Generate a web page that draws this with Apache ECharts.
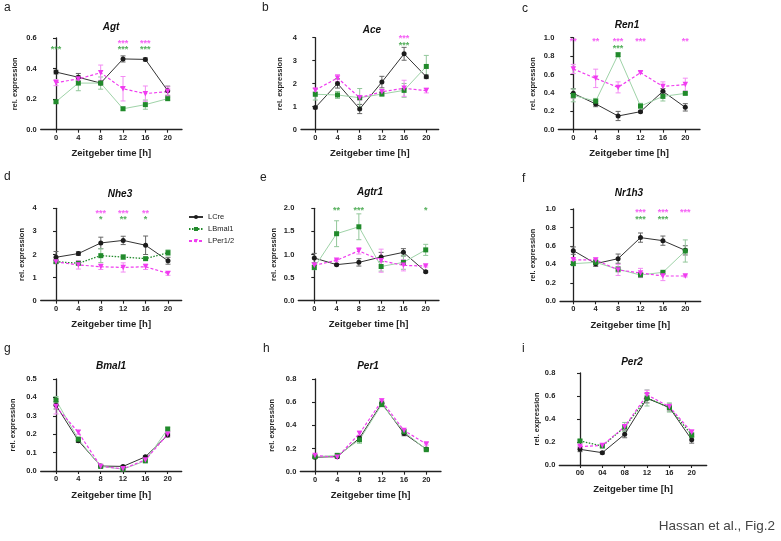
<!DOCTYPE html>
<html><head><meta charset="utf-8">
<script src="https://cdn.jsdelivr.net/npm/echarts@6/dist/echarts.min.js"></script>
<style>html,body{margin:0;padding:0;background:#fff}#c{width:781px;height:541px}</style>
</head><body><div id="c"></div>
<script>
// ---------- data ----------
const times = [0, 4, 8, 12, 16, 20];
const timeLabels = ['0', '4', '8', '12', '16', '20'];
const timeLabelsPer2 = ['00', '04', '08', '12', '16', '20'];
const groups = ['LCre', 'LBmal1', 'LPer1/2'];
const genes = ['Agt', 'Ace', 'Ren1', 'Nhe3', 'Agtr1', 'Nr1h3', 'Bmal1', 'Per1', 'Per2'];
const panelLetters = ['a', 'b', 'c', 'd', 'e', 'f', 'g', 'h', 'i'];
const yMax = [0.6, 4, 1.0, 4, 2.0, 1.0, 0.5, 0.8, 0.8];
const yStep = [0.2, 1, 0.2, 1, 0.5, 0.2, 0.1, 0.2, 0.2];

const agtLCre = [0.377, 0.343, 0.305, 0.463, 0.460, 0.255];
const agtLCreErr = [0.012, 0.025, 0.010, 0.020, 0.010, 0.030];
const agtLBmal1 = [0.183, 0.305, 0.305, 0.137, 0.164, 0.203];
const agtLBmal1Err = [0.008, 0.050, 0.040, 0.010, 0.030, 0.010];
const agtLPer = [0.308, 0.332, 0.373, 0.268, 0.236, 0.250];
const agtLPerErr = [0.020, 0.010, 0.050, 0.080, 0.050, 0.030];

const aceLCre = [0.96, 2.01, 0.90, 2.07, 3.30, 2.30];
const aceLCreErr = [0.05, 0.20, 0.20, 0.25, 0.28, 0.08];
const aceLBmal1 = [1.54, 1.51, 1.39, 1.55, 1.71, 2.75];
const aceLBmal1Err = [0.25, 0.15, 0.40, 0.08, 0.30, 0.48];
const aceLPer = [1.72, 2.25, 1.39, 1.65, 1.80, 1.70];
const aceLPerErr = [0.08, 0.15, 0.10, 0.10, 0.35, 0.10];

const ren1LCre = [0.395, 0.280, 0.149, 0.196, 0.417, 0.243];
const ren1LCreErr = [0.050, 0.030, 0.050, 0.010, 0.030, 0.040];
const ren1LBmal1 = [0.373, 0.310, 0.815, 0.257, 0.362, 0.395];
const ren1LBmal1Err = [0.070, 0.030, 0.020, 0.030, 0.050, 0.010];
const ren1LPer = [0.660, 0.558, 0.460, 0.620, 0.470, 0.490];
const ren1LPerErr = [0.050, 0.100, 0.060, 0.010, 0.050, 0.070];

const nhe3LCre = [1.88, 2.04, 2.50, 2.61, 2.40, 1.73];
const nhe3LCreErr = [0.25, 0.08, 0.25, 0.18, 0.40, 0.15];
const nhe3LBmal1 = [1.69, 1.62, 1.95, 1.89, 1.82, 2.08];
const nhe3LBmal1Err = [0.05, 0.05, 0.30, 0.10, 0.05, 0.12];
const nhe3LPer = [1.68, 1.55, 1.47, 1.44, 1.47, 1.18];
const nhe3LPerErr = [0.05, 0.18, 0.12, 0.20, 0.12, 0.08];

const agtr1LCre = [0.924, 0.780, 0.830, 0.946, 1.047, 0.628];
const agtr1LCreErr = [0.100, 0.020, 0.080, 0.100, 0.080, 0.020];
const agtr1LBmal1 = [0.720, 1.450, 1.600, 0.740, 0.830, 1.100];
const agtr1LBmal1Err = [0.050, 0.280, 0.280, 0.100, 0.150, 0.120];
const agtr1LPer = [0.765, 0.874, 1.080, 0.866, 0.765, 0.750];
const agtr1LPerErr = [0.050, 0.020, 0.070, 0.250, 0.120, 0.020];

const nr1h3LCre = [0.549, 0.408, 0.462, 0.690, 0.657, 0.552];
const nr1h3LCreErr = [0.040, 0.030, 0.050, 0.050, 0.050, 0.050];
const nr1h3LBmal1 = [0.408, 0.422, 0.347, 0.285, 0.314, 0.545];
const nr1h3LBmal1Err = [0.020, 0.030, 0.030, 0.020, 0.010, 0.120];
const nr1h3LPer = [0.450, 0.448, 0.340, 0.307, 0.274, 0.274];
const nr1h3LPerErr = [0.010, 0.020, 0.060, 0.050, 0.050, 0.010];

const bmal1LCre = [0.357, 0.165, 0.027, 0.025, 0.077, 0.195];
const bmal1LCreErr = [0.020, 0.010, 0.005, 0.005, 0.005, 0.010];
const bmal1LBmal1 = [0.385, 0.173, 0.025, 0.010, 0.055, 0.228];
const bmal1LBmal1Err = [0.020, 0.010, 0.005, 0.003, 0.005, 0.010];
const bmal1LPer = [0.350, 0.210, 0.025, 0.012, 0.060, 0.200];
const bmal1LPerErr = [0.040, 0.010, 0.005, 0.003, 0.005, 0.010];

const per1LCre = [0.125, 0.130, 0.290, 0.590, 0.330, 0.195];
const per1LCreErr = [0.010, 0.010, 0.020, 0.020, 0.020, 0.010];
const per1LBmal1 = [0.130, 0.140, 0.275, 0.580, 0.345, 0.190];
const per1LBmal1Err = [0.010, 0.020, 0.030, 0.020, 0.020, 0.010];
const per1LPer = [0.140, 0.125, 0.330, 0.610, 0.355, 0.240];
const per1LPerErr = [0.010, 0.010, 0.020, 0.020, 0.010, 0.010];

const per2LCre = [0.136, 0.107, 0.267, 0.580, 0.500, 0.220];
const per2LCreErr = [0.020, 0.010, 0.030, 0.040, 0.030, 0.030];
const per2LBmal1 = [0.209, 0.165, 0.330, 0.583, 0.500, 0.260];
const per2LBmal1Err = [0.010, 0.010, 0.040, 0.070, 0.040, 0.020];
const per2LPer = [0.160, 0.170, 0.333, 0.610, 0.507, 0.285];
const per2LPerErr = [0.010, 0.010, 0.020, 0.040, 0.020, 0.020];

// significance marks: [time, y, text, group index]
const agtStars = [[0, 0.537, '***', 1], [12, 0.58, '***', 2], [16, 0.58, '***', 2], [12, 0.537, '***', 1], [16, 0.537, '***', 1]];
const aceStars = [[16, 4.04, '***', 2], [16, 3.75, '***', 1]];
const ren1Stars = [[0, 0.975, '**', 2], [4, 0.975, '**', 2], [8, 0.975, '***', 2], [12, 0.975, '***', 2], [20, 0.975, '**', 2], [8, 0.90, '***', 1]];
const nhe3Stars = [[8, 3.88, '***', 2], [12, 3.88, '***', 2], [16, 3.88, '**', 2], [8, 3.58, '*', 1], [12, 3.58, '**', 1], [16, 3.58, '*', 1]];
const agtr1Stars = [[4, 1.99, '**', 1], [8, 1.99, '***', 1], [20, 1.99, '*', 1]];
const nr1h3Stars = [[12, 0.98, '***', 2], [16, 0.98, '***', 2], [20, 0.98, '***', 2], [12, 0.91, '***', 1], [16, 0.91, '***', 1]];

// ---------- tables built from the arrays ----------
const means = [
  [agtLCre, agtLBmal1, agtLPer], [aceLCre, aceLBmal1, aceLPer], [ren1LCre, ren1LBmal1, ren1LPer],
  [nhe3LCre, nhe3LBmal1, nhe3LPer], [agtr1LCre, agtr1LBmal1, agtr1LPer], [nr1h3LCre, nr1h3LBmal1, nr1h3LPer],
  [bmal1LCre, bmal1LBmal1, bmal1LPer], [per1LCre, per1LBmal1, per1LPer], [per2LCre, per2LBmal1, per2LPer]
];
const errs = [
  [agtLCreErr, agtLBmal1Err, agtLPerErr], [aceLCreErr, aceLBmal1Err, aceLPerErr], [ren1LCreErr, ren1LBmal1Err, ren1LPerErr],
  [nhe3LCreErr, nhe3LBmal1Err, nhe3LPerErr], [agtr1LCreErr, agtr1LBmal1Err, agtr1LPerErr], [nr1h3LCreErr, nr1h3LBmal1Err, nr1h3LPerErr],
  [bmal1LCreErr, bmal1LBmal1Err, bmal1LPerErr], [per1LCreErr, per1LBmal1Err, per1LPerErr], [per2LCreErr, per2LBmal1Err, per2LPerErr]
];
const stars = [agtStars, aceStars, ren1Stars, nhe3Stars, agtr1Stars, nr1h3Stars, [], [], []];

// ---------- layout (pixels) ----------
const FONT = '"Liberation Sans", Arial, Helvetica, sans-serif';
// [axisLeftX, x(0), x(20), axisRightX, yTop, yBottom]
const geo = [
  [40.7, 56, 167.7, 182, 38, 129.7],
  [301, 315.3, 426.3, 438.7, 37.7, 129.7],
  [558.3, 573.3, 685.3, 700, 37.7, 129.7],
  [40.7, 56, 168, 181.7, 208.3, 300.7],
  [298.3, 314.3, 425.7, 439, 208.3, 300.7],
  [560, 573.3, 685.3, 700.7, 209, 301.3],
  [40.7, 56, 167.7, 181.7, 379, 471],
  [300.3, 315, 426.3, 441, 379, 471.7],
  [559.3, 580, 691.7, 706.7, 373, 465]
];
const yNameGap = [21.7, 17, 21, 14.4, 20, 22.7, 23.4, 24.6, 15.3];
const titlePos = [[106, 24], [367, 27], [622, 22], [115, 191], [365, 189], [624, 190], [106, 363], [363, 363], [627, 359]];
const letterPos = [[4, 9], [262, 9], [522, 10], [4, 178], [260, 179], [522, 180], [4, 350], [263, 350], [522, 350]];

const BLACK = '#1c1c1c';
const GREEN = '#218a2b';
const GREEN_PALE = '#9fd3a8';
const MAGENTA = '#f03cf0';
const colorsMark = [BLACK, GREEN, MAGENTA];
const colorsErr = ['#666666', '#93c79b', '#f38cf3'];

const grids = [], xAxes = [], yAxes = [], series = [], titles = [], graphics = [];

const order = [3, 0, 1, 2, 4, 5, 6, 7, 8]; // panel d first so the legend takes its styles
geo.forEach((g, p) => {
  const [L, x0, x20, R, yT, yB] = g;
  const u = (x20 - x0) / 20;
  grids.push({ left: L, top: yT, width: R - L, height: yB - yT, containLabel: false });
  const labs = p === 8 ? timeLabelsPer2 : timeLabels;
  xAxes.push({
    type: 'value', gridIndex: p, min: -(x0 - L) / u, max: 20 + (R - x20) / u,
    splitLine: { show: false },
    axisLine: { onZero: false, lineStyle: { color: '#222', width: 1.3 } },
    axisTick: { show: true, length: 3, lineStyle: { color: '#222', width: 1.1 }, customValues: times },
    axisLabel: { customValues: times, formatter: v => labs[times.indexOf(v)], fontFamily: FONT, fontWeight: 'bold', fontSize: 7.5, color: '#222', margin: 4 },
    name: 'Zeitgeber time [h]', nameLocation: 'middle', nameGap: 19,
    nameTextStyle: { fontFamily: FONT, fontWeight: 'bold', fontSize: 9.5, color: '#222' }
  });
  const dec = yStep[p] < 1 ? 1 : 0;
  yAxes.push({
    type: 'value', gridIndex: p, min: 0, max: yMax[p], interval: yStep[p],
    splitLine: { show: false },
    axisLine: { show: true, lineStyle: { color: '#222', width: 1.3 } },
    axisTick: { show: true, length: 3, lineStyle: { color: '#222', width: 1.1 } },
    axisLabel: { formatter: v => v.toFixed(dec), fontFamily: FONT, fontWeight: 'bold', fontSize: 7.5, color: '#222', margin: 4 },
    name: 'rel. expression', nameLocation: 'middle', nameGap: yNameGap[p],
    nameTextStyle: { fontFamily: FONT, fontWeight: 'bold', fontSize: 7.5, color: '#222' }
  });
  titles.push({ text: genes[p], left: titlePos[p][0], top: titlePos[p][1] - 7, textAlign: 'center',
    textStyle: { fontFamily: FONT, fontWeight: 'bold', fontStyle: 'italic', fontSize: 10, color: '#111' } });
  graphics.push({ type: 'text', left: letterPos[p][0], top: letterPos[p][1] - 7,
    style: { text: panelLetters[p], font: '12px ' + FONT, fill: '#222' } });
});

order.forEach(p => {
  const dottedPanel = (p === 3 || p === 8);
  groups.forEach((name, gi) => {
    const m = means[p][gi], e = errs[p][gi];
    series.push({
      type: 'custom', xAxisIndex: p, yAxisIndex: p, silent: true, z: 1,
      data: times.map((t, k) => [t, m[k] - e[k], m[k] + e[k]]),
      renderItem: (params, api) => {
        const lo = api.coord([api.value(0), api.value(1)]);
        const hi = api.coord([api.value(0), api.value(2)]);
        const st = { stroke: colorsErr[gi], lineWidth: 1 };
        return { type: 'group', children: [
          { type: 'line', shape: { x1: lo[0], y1: lo[1], x2: hi[0], y2: hi[1] }, style: st },
          { type: 'line', shape: { x1: lo[0] - 2.5, y1: lo[1], x2: lo[0] + 2.5, y2: lo[1] }, style: st },
          { type: 'line', shape: { x1: hi[0] - 2.5, y1: hi[1], x2: hi[0] + 2.5, y2: hi[1] }, style: st }
        ] };
      }
    });
    let lineStyle;
    if (gi === 0) lineStyle = { color: '#333', width: 1, type: 'solid' };
    else if (gi === 1) lineStyle = dottedPanel ? { color: GREEN, width: 1.3, type: [1.5, 1.5] } : { color: GREEN_PALE, width: 1, type: 'solid' };
    else lineStyle = { color: MAGENTA, width: 1.2, type: [3, 2] };
    series.push({
      type: 'line', name, xAxisIndex: p, yAxisIndex: p, z: 3,
      data: times.map((t, k) => [t, m[k]]),
      symbol: gi === 0 ? 'circle' : gi === 1 ? 'rect' : 'triangle',
      symbolRotate: gi === 2 ? 180 : 0,
      symbolSize: gi === 2 ? 5.5 : 5,
      showSymbol: true,
      itemStyle: { color: colorsMark[gi], borderWidth: 0 },
      lineStyle, emphasis: { disabled: true }, animation: false
    });
  });
  if (stars[p].length) {
    series.push({
      type: 'scatter', xAxisIndex: p, yAxisIndex: p, z: 5, clip: false, silent: true,
      symbolSize: 0.1,
      data: stars[p].map(s => ({ value: [s[0], s[1]], name: s[2],
        label: { color: s[3] === 1 ? '#2c9c35' : '#f23af2' } })),
      label: { show: true, position: 'inside', formatter: d => d.name, fontFamily: FONT,
        fontWeight: 'bold', fontSize: 9, offset: [0, 2] },
      animation: false
    });
  }
});

graphics.push({ type: 'text', right: 6, top: 519,
  style: { text: 'Hassan et al., Fig.2', font: '13.5px ' + FONT, fill: '#444' } });

const chart = echarts.init(document.getElementById('c'), null, { renderer: 'canvas' });
chart.setOption({
  animation: false,
  backgroundColor: '#fff',
  title: titles,
  grid: grids, xAxis: xAxes, yAxis: yAxes, series,
  graphic: graphics,
  legend: {
    data: groups, orient: 'vertical', left: 183, top: 208, itemWidth: 14, itemHeight: 5, itemGap: 4,
    textStyle: { fontFamily: FONT, fontSize: 7.5, color: '#222' }, selectedMode: false
  }
});
</script></body></html>
